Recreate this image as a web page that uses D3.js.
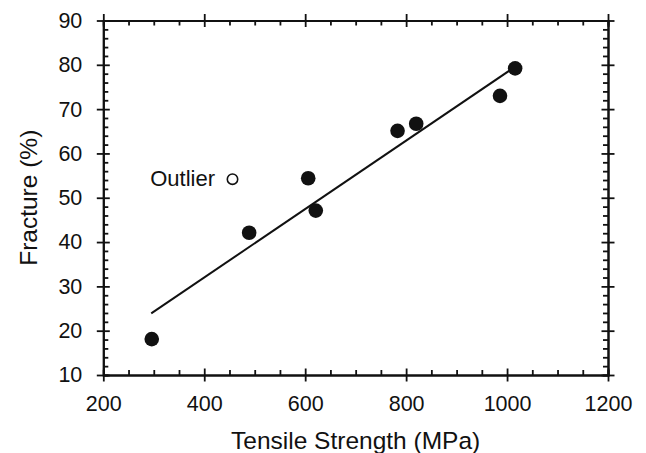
<!DOCTYPE html>
<html>
<head>
<meta charset="utf-8">
<script src="https://cdn.jsdelivr.net/npm/d3@7"></script>
<style>
  body { margin: 0; background: #fff; }
  svg text { font-family: "Liberation Sans", Arial, Helvetica, sans-serif; fill: #111; }
</style>
</head>
<body>
<div id="vizArea"></div>
<script>
// données
const strength = [296, 489, 606, 621, 783, 820, 986, 1016]
const fracture = [18.1, 42.1, 54.4, 47.1, 65.1, 66.7, 73.0, 79.2]

// point aberrant
const outlierStrength = 456
const outlierFracture = 54.2
const outlierLabel = "Outlier"

// droite de régression (extrémités)
const fitStrength = [295, 1006]
const fitFracture = [23.9, 78.8]

const xTicks = [200, 400, 600, 800, 1000, 1200]
const yTicks = [10, 20, 30, 40, 50, 60, 70, 80, 90]

const W = 646, H = 453
const margin = {top: 20.5, right: 38, bottom: 78, left: 103.3}
const width = W - margin.left - margin.right,
    height = H - margin.top - margin.bottom

const svg = d3.select('#vizArea')
    .append('svg')
    .attr("width", W)
    .attr("height", H)

const figure = svg.append("g")
    .attr("transform", "translate(" + margin.left + "," + margin.top + ")")

const x = d3.scaleLinear().domain([200, 1200]).range([0, width])
const y = d3.scaleLinear().domain([10, 90]).range([height, 0])

const xMinor = d3.range(200, 1201, 50).filter(v => !xTicks.includes(v))
const yMinor = d3.range(10, 91, 2).filter(v => !yTicks.includes(v))

const ink = "#111"
const major = 6.5, minor = 5
const fmt = d3.format("d")

// style commun des axes
let styleAxis = g => {
    g.select(".domain").attr("stroke", ink).attr("stroke-width", 2)
    g.selectAll(".tick line").attr("stroke", ink).attr("stroke-width", 1.8)
    g.selectAll(".tick text").attr("font-size", 21.5)
}

// axe bas
figure.append('g')
    .attr("transform", "translate(0," + height + ")")
    .call(d3.axisBottom(x).tickValues(xTicks).tickFormat(fmt).tickSizeInner(major).tickSizeOuter(0))
    .call(styleAxis)
    .call(g => g.selectAll(".tick line").attr("y1", -major))
    .call(g => g.selectAll(".tick text").attr("y", 36).attr("dy", 0))
figure.append('g')
    .attr("transform", "translate(0," + height + ")")
    .call(d3.axisBottom(x).tickValues(xMinor).tickSize(-minor).tickFormat(""))
    .call(styleAxis)

// axe haut
figure.append('g')
    .call(d3.axisTop(x).tickValues(xTicks).tickSizeInner(major).tickSizeOuter(0).tickFormat(""))
    .call(styleAxis)
    .call(g => g.selectAll(".tick line").attr("y1", major))
figure.append('g')
    .call(d3.axisTop(x).tickValues(xMinor).tickSize(-minor).tickFormat(""))
    .call(styleAxis)

// axe gauche
figure.append('g')
    .call(d3.axisLeft(y).tickValues(yTicks).tickFormat(fmt).tickSizeInner(major).tickSizeOuter(0))
    .call(styleAxis)
    .call(g => g.selectAll(".tick line").attr("x1", major))
    .call(g => g.selectAll(".tick text").attr("x", -21))
figure.append('g')
    .call(d3.axisLeft(y).tickValues(yMinor).tickSize(-minor).tickFormat(""))
    .call(styleAxis)

// axe droit
figure.append('g')
    .attr("transform", "translate(" + width + ",0)")
    .call(d3.axisRight(y).tickValues(yTicks).tickSizeInner(major).tickSizeOuter(0).tickFormat(""))
    .call(styleAxis)
    .call(g => g.selectAll(".tick line").attr("x1", -major))
figure.append('g')
    .attr("transform", "translate(" + width + ",0)")
    .call(d3.axisRight(y).tickValues(yMinor).tickSize(-minor).tickFormat(""))
    .call(styleAxis)

// titres
figure.append("text")
    .attr("text-anchor", "middle")
    .attr("x", width / 2)
    .attr("y", height + 74)
    .attr("font-size", 24.5)
    .text("Tensile Strength (MPa)")

figure.append("text")
    .attr("text-anchor", "middle")
    .attr("transform", "translate(" + (37 - margin.left) + "," + (height / 2) + ") rotate(-90)")
    .attr("font-size", 24.5)
    .text("Fracture (%)")

// droite de régression
figure.append("path")
    .datum(fitStrength.map((s, i) => [s, fitFracture[i]]))
    .attr("fill", "none")
    .attr("stroke", ink)
    .attr("stroke-width", 2)
    .attr("d", d3.line().x(d => x(d[0])).y(d => y(d[1])))

// points
figure.selectAll("circle.pt")
    .data(strength.map((s, i) => ({s: s, f: fracture[i]})))
    .join("circle")
    .attr("class", "pt")
    .attr("cx", d => x(d.s))
    .attr("cy", d => y(d.f))
    .attr("r", 7.3)
    .attr("fill", ink)

// point aberrant
figure.append("circle")
    .attr("cx", x(outlierStrength))
    .attr("cy", y(outlierFracture))
    .attr("r", 5.2)
    .attr("fill", "#fff")
    .attr("stroke", ink)
    .attr("stroke-width", 1.6)

figure.append("text")
    .attr("text-anchor", "end")
    .attr("x", x(outlierStrength) - 17.5)
    .attr("y", y(outlierFracture) + 7.3)
    .attr("font-size", 22)
    .text(outlierLabel)
</script>
</body>
</html>
